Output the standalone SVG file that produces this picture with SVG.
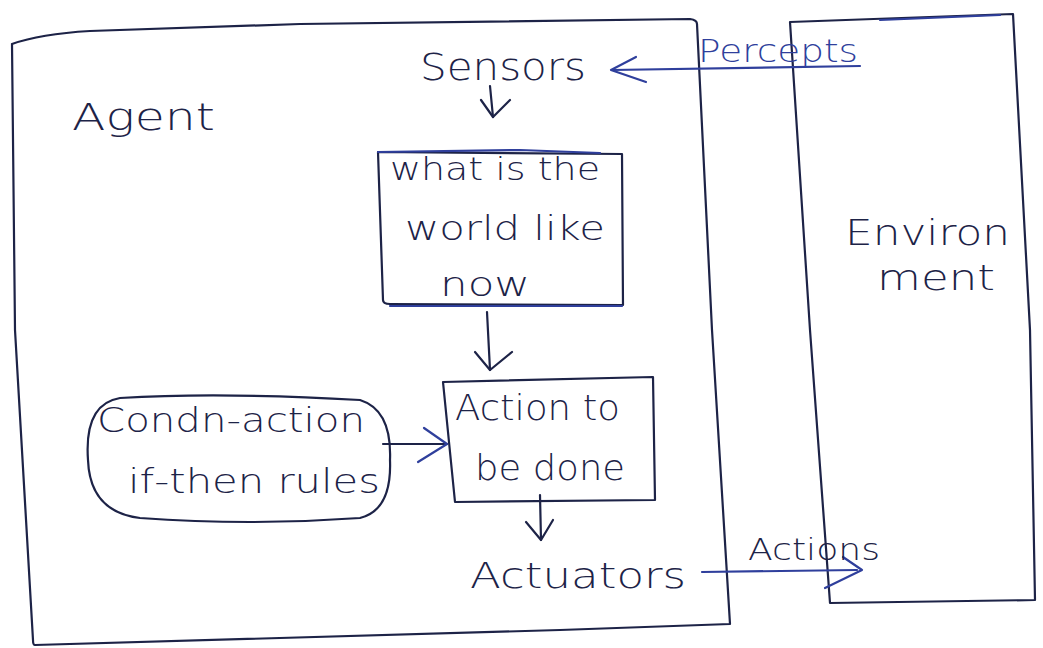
<svg xmlns="http://www.w3.org/2000/svg" width="1043" height="648" viewBox="0 0 1043 648">
  <style>
    .ink { fill: none; stroke: #1d2347; stroke-width: 2.2; stroke-linecap: round; stroke-linejoin: round; }
    .blue { fill: none; stroke: #2f3f9c; stroke-width: 2.2; stroke-linecap: round; stroke-linejoin: round; }
    .hand { font-family: "DejaVu Sans", "Liberation Sans", sans-serif; font-weight: 300; fill: #1d2347; }
    .hand-blue { font-family: "DejaVu Sans", "Liberation Sans", sans-serif; font-weight: 300; fill: #2f3f9c; }
  </style>
  <rect width="1043" height="648" fill="#ffffff"/>

  <!-- Agent outer frame -->
  <g id="agent">
    <path class="ink" d="M12 44 Q40 34 90 31 L300 24 L690 19 Q697 20 697 24 L712 330 L730 624 L560 630 L35 645 Q33 645 33 640 L15 330 L12 44"/>
    <text class="hand" x="72" y="130" font-size="38" textLength="143" lengthAdjust="spacingAndGlyphs">Agent</text>
  </g>

  <!-- Environment frame -->
  <g id="environment">
    <path class="ink" d="M790 22 L1013 14 L1030 330 L1035 600 L830 603 L810 330 L790 22"/>
    <path class="blue" d="M880 20 L1000 15"/>
    <text class="hand" x="845" y="245" font-size="36" textLength="165" lengthAdjust="spacingAndGlyphs">Environ</text>
    <text class="hand" x="877" y="290" font-size="36" textLength="118" lengthAdjust="spacingAndGlyphs">ment</text>
  </g>

  <!-- Sensors -->
  <g id="sensors">
    <text class="hand" x="420" y="80" font-size="38" textLength="166" lengthAdjust="spacingAndGlyphs">Sensors</text>
  </g>

  <!-- State box -->
  <g id="world-state">
    <path class="ink" d="M378 152 L622 154 L623 305 L390 304 Q383 304 383 300 L378 152"/>
    <path class="blue" d="M378 152 L520 150 L600 153"/>
    <path class="blue" d="M390 306 L622 306"/>
    <text class="hand" x="390" y="180" font-size="32" textLength="210" lengthAdjust="spacingAndGlyphs">what is the</text>
    <text class="hand" x="405" y="240" font-size="34" textLength="200" lengthAdjust="spacingAndGlyphs">world like</text>
    <text class="hand" x="440" y="296" font-size="34" textLength="90" lengthAdjust="spacingAndGlyphs">now</text>
  </g>

  <!-- Action box -->
  <g id="action">
    <path class="ink" d="M443 382 L653 377 L655 500 L455 502 L443 382"/>
    <text class="hand" x="455" y="420" font-size="36" textLength="165" lengthAdjust="spacingAndGlyphs">Action to</text>
    <text class="hand" x="475" y="480" font-size="36" textLength="150" lengthAdjust="spacingAndGlyphs">be done</text>
  </g>

  <!-- Rules (rounded) -->
  <g id="rules">
    <path class="ink" d="M120 398 Q220 392 360 400 Q392 410 390 460 Q392 510 360 518 Q250 526 140 518 Q90 512 88 460 Q84 404 120 398 Z"/>
    <text class="hand" x="97" y="432" font-size="34" textLength="268" lengthAdjust="spacingAndGlyphs">Condn-action</text>
    <text class="hand" x="128" y="493" font-size="34" textLength="252" lengthAdjust="spacingAndGlyphs">if-then rules</text>
  </g>

  <!-- Actuators -->
  <g id="actuators">
    <text class="hand" x="470" y="588" font-size="36" textLength="216" lengthAdjust="spacingAndGlyphs">Actuators</text>
  </g>

  <!-- Connectors -->
  <g id="connectors">
    <!-- percepts into sensors -->
    <path class="blue" d="M860 66 L612 70"/>
    <path class="blue" d="M636 57 L611 70 L646 82"/>
    <text class="hand-blue" x="698" y="62" font-size="32" textLength="160" lengthAdjust="spacingAndGlyphs">Percepts</text>
    <!-- sensors to state -->
    <path class="ink" d="M490 86 L493 117"/>
    <path class="ink" d="M481 100 L493 117 L510 100"/>
    <!-- state to action -->
    <path class="ink" d="M487 312 L490 370"/>
    <path class="ink" d="M475 352 L490 370 L512 352"/>
    <!-- rules to action -->
    <path class="ink" d="M383 444 L447 444"/>
    <path class="blue" d="M424 428 L447 444 L418 462"/>
    <!-- action to actuators -->
    <path class="ink" d="M540 495 L541 540"/>
    <path class="ink" d="M526 522 L541 540 L553 520"/>
    <!-- actuators out to environment -->
    <path class="blue" d="M702 572 L857 570"/>
    <path class="blue" d="M843 557 L862 570 L825 588"/>
    <text class="hand" x="748" y="560" font-size="30" textLength="132" lengthAdjust="spacingAndGlyphs">Actions</text>
  </g>
</svg>
